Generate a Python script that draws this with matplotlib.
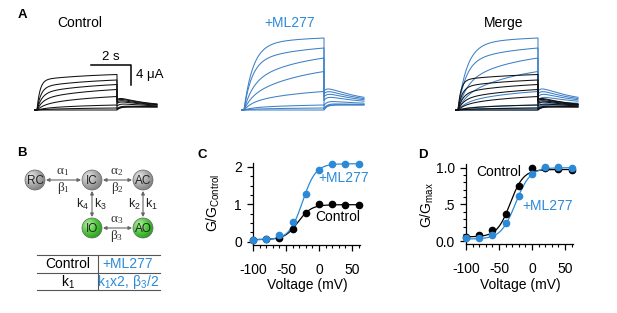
import numpy as np
import matplotlib.pyplot as plt
from matplotlib.patches import Circle
from matplotlib.colors import LinearSegmentedColormap
from matplotlib.ticker import MultipleLocator

plt.rcParams['font.family'] = ['Liberation Sans', 'DejaVu Sans']
plt.rcParams['mathtext.default'] = 'regular'

W, H = 617, 313
BLUE = '#2b8ad8'
TRACE_BLUE = '#3d80c6'

# ---- panel A: current traces (uA), one entry per voltage step ----
ctrl_fast = [6.0, 4.6, 3.4, 2.2, 1.0, 0.3, 0.1, 0.0]
ctrl_tau = [0.15, 0.2, 0.25, 0.3, 0.35, 0.4, 0.4, 0.4]
ctrl_slow = [1.1, 1.4, 1.7, 1.9, 1.7, 0.7, 0.3, 0.0]
ctrl_tail = [2.1, 1.9, 1.6, 1.3, 0.8, 0.25, 0.08, 0.0]
ctrl_tail_ss = 0.6
ctrl_tail_tau = 1.6

ml_fast = [13.0, 9.6, 5.5, 2.5, 1.4, 0.4, 0.15, 0.0]
ml_tau = [0.45, 0.4, 0.45, 0.4, 0.4, 0.4, 0.4, 0.4]
ml_slow = [1.4, 2.8, 4.9, 5.2, 2.3, 0.6, 0.25, 0.0]
ml_tail = [3.8, 3.2, 2.6, 1.9, 0.9, 0.3, 0.1, 0.0]
ml_tail_ss = 1.0
ml_tail_tau = 2.2

STEP_DUR = 4.0
TAIL_DUR = 2.0
SLOW_TAU = 3.0

# ---- panels C / D ----
voltage = [-100, -80, -60, -40, -20, 0, 20, 40, 60]
g_rel_ctrl = [0.06, 0.07, 0.115, 0.35, 0.77, 1.0, 1.0, 0.99, 0.97]
g_rel_ml = [0.06, 0.08, 0.18, 0.53, 1.28, 1.92, 2.08, 2.08, 2.08]
g_norm_ctrl = [0.065, 0.08, 0.15, 0.365, 0.755, 1.0, 1.0, 0.98, 0.965]
g_norm_ml = [0.04, 0.05, 0.09, 0.25, 0.61, 0.91, 1.01, 1.01, 1.0]

# Boltzmann fits: bottom, top, V1/2, slope
fit_rel_ctrl = (0.06, 0.99, -32, 10)
fit_rel_ml = (0.06, 2.08, -25, 10)
fit_norm_ctrl = (0.06, 0.975, -33, 10)
fit_norm_ml = (0.03, 1.0, -25, 11)

# ---- panel B table ----
table_rows = [['Control', '+ML277'], ['k$_1$', 'k$_1$x2, β$_3$/2']]


def trace(a_fast, tau, a_slow, tail_amp, tail_ss, tail_tau):
    t0 = np.array([-0.15, 0.0])
    i0 = np.zeros(2)
    t1 = np.linspace(0, STEP_DUR, 300)
    i1 = a_fast * (1 - np.exp(-t1 / tau)) + \
        a_slow * (1 - np.exp(-t1 / SLOW_TAU)) / (1 - np.exp(-STEP_DUR / SLOW_TAU))
    t2 = np.linspace(0, TAIL_DUR, 150)
    i2 = tail_ss * (1 - np.exp(-t2 / 0.15)) + tail_amp * np.exp(-t2 / tail_tau)
    return np.concatenate([t0, t1, t2 + STEP_DUR]), np.concatenate([i0, i1, i2])


def boltz(v, p):
    bot, top, vh, k = p
    return bot + (top - bot) / (1 + np.exp((vh - v) / k))


fig = plt.figure(figsize=(W / 100, H / 100), dpi=100)


def px_axes(l, t, r, b):
    return fig.add_axes([l / W, 1 - b / H, (r - l) / W, (b - t) / H])


def trace_axes(left):
    ax = px_axes(left, 30, left + 128, 115)
    ax.set_xlim(-0.15, 6.25)
    ax.set_ylim(-1, 16)
    ax.axis('off')
    return ax


ax_ctrl = trace_axes(34)
ax_ml = trace_axes(241)
ax_merge = trace_axes(455)

for i in range(len(ml_fast)):
    t, cur = trace(ml_fast[i], ml_tau[i], ml_slow[i], ml_tail[i], ml_tail_ss, ml_tail_tau)
    ax_ml.plot(t, cur, color=TRACE_BLUE, lw=0.75)
    ax_merge.plot(t, cur, color=TRACE_BLUE, lw=0.75)
for i in range(len(ctrl_fast)):
    t, cur = trace(ctrl_fast[i], ctrl_tau[i], ctrl_slow[i], ctrl_tail[i], ctrl_tail_ss, ctrl_tail_tau)
    ax_ctrl.plot(t, cur, color='#111111', lw=0.75)
    ax_merge.plot(t, cur, color='#111111', lw=0.75)

# scale bar
ax_ctrl.plot([2.7, 4.7, 4.7], [9.0, 9.0, 5.0], color='black', lw=1.1)
ax_ctrl.text(3.7, 9.5, '2 s', ha='center', va='bottom', fontsize=9.5)
ax_ctrl.text(4.95, 7.0, '4 μA', ha='left', va='center', fontsize=9.5)


def setup_iv(ax, ylim, yticks, ylabels, yminor):
    ax.set_xlim(-100, 62)
    ax.set_ylim(*ylim)
    for s in ['top', 'right']:
        ax.spines[s].set_visible(False)
    for s in ['left', 'bottom']:
        ax.spines[s].set_linewidth(0.9)
    ax.set_xticks([-100, -50, 0, 50])
    ax.set_xticklabels(['-100', '-50', '0', '50'])
    ax.xaxis.set_minor_locator(MultipleLocator(10))
    ax.set_yticks(yticks)
    ax.set_yticklabels(ylabels)
    ax.yaxis.set_minor_locator(MultipleLocator(yminor))
    ax.tick_params(which='major', direction='out', length=4, width=0.9, labelsize=10)
    ax.tick_params(axis='x', which='major', pad=9)
    ax.tick_params(axis='y', which='major', pad=4)
    ax.tick_params(which='minor', direction='out', length=2.5, width=0.8)


vfit = np.linspace(-100, 60, 200)

ax_c = px_axes(253, 163, 360, 244.5)
setup_iv(ax_c, (-0.07, 2.1), [0, 1, 2], ['0', '1', '2'], 0.25)
ax_c.plot(vfit, boltz(vfit, fit_rel_ctrl), color='black', lw=0.9)
ax_c.plot(vfit, boltz(vfit, fit_rel_ml), color=BLUE, lw=0.9)
ax_c.plot(voltage, g_rel_ctrl, 'o', color='black', ms=4.5, clip_on=False, zorder=4)
ax_c.plot(voltage, g_rel_ml, 'o', color=BLUE, ms=4.5, clip_on=False, zorder=4)

ax_d = px_axes(466, 164, 573, 243.5)
setup_iv(ax_d, (-0.03, 1.05), [0, 0.5, 1.0], ['0.0', '.5', '1.0'], 0.1)
ax_d.plot(vfit, boltz(vfit, fit_norm_ctrl), color='black', lw=0.9)
ax_d.plot(vfit, boltz(vfit, fit_norm_ml), color=BLUE, lw=0.9)
ax_d.plot(voltage, g_norm_ctrl, 'o', color='black', ms=4.5, clip_on=False, zorder=4)
ax_d.plot(voltage, g_norm_ml, 'o', color=BLUE, ms=4.5, clip_on=False, zorder=5)

# ---- overlay in pixel coordinates: labels, scheme, table ----
ov = fig.add_axes([0, 0, 1, 1])
ov.set_xlim(0, W)
ov.set_ylim(H, 0)
ov.axis('off')
ov.patch.set_visible(False)

for lab, x, y in [('A', 22, 15), ('B', 22, 153), ('C', 202, 155), ('D', 423, 155)]:
    ov.text(x, y, lab, fontsize=9.5, fontweight='bold', ha='center', va='center')

ov.text(80, 23, 'Control', fontsize=10, ha='center', va='center')
ov.text(290, 23, '+ML277', fontsize=10, ha='center', va='center', color=BLUE)
ov.text(504, 23, 'Merge', fontsize=10, ha='center', va='center')

ov.text(213, 203, 'G/G$_{Control}$', fontsize=10, rotation=90, ha='center', va='center')
ov.text(307, 285, 'Voltage (mV)', fontsize=10, ha='center', va='center')
ov.text(344, 178, '+ML277', fontsize=10, ha='center', va='center', color=BLUE)
ov.text(338, 217, 'Control', fontsize=10, ha='center', va='center')

ov.text(427, 205, 'G/G$_{max}$', fontsize=10, rotation=90, ha='center', va='center')
ov.text(520, 285, 'Voltage (mV)', fontsize=10, ha='center', va='center')
ov.text(499, 172, 'Control', fontsize=10, ha='center', va='center')
ov.text(548, 206, '+ML277', fontsize=10, ha='center', va='center', color=BLUE)

# kinetic scheme
grey_cmap = LinearSegmentedColormap.from_list('g', ['#e8e8e8', '#a8a8a8', '#727272'])
green_cmap = LinearSegmentedColormap.from_list('gr', ['#b6f0a4', '#4cc63a', '#1f8f16'])
states = {'RC': (35, 180, grey_cmap), 'IC': (92, 180, grey_cmap), 'AC': (143, 180, grey_cmap),
          'IO': (92, 228, green_cmap), 'AO': (143, 228, green_cmap)}
r = 10
yy, xx = np.mgrid[-1:1:60j, -1:1:60j]
grad = np.sqrt((xx + 0.35) ** 2 + (yy + 0.35) ** 2) / 1.7
for name, (cx, cy, cm) in states.items():
    circ = Circle((cx, cy), r, transform=ov.transData, facecolor='none',
                  edgecolor='#666666', lw=0.5, zorder=3)
    ov.add_patch(circ)
    im = ov.imshow(grad, extent=(cx - r, cx + r, cy + r, cy - r), cmap=cm, vmin=0, vmax=1,
                   origin='upper', aspect='auto', zorder=2, interpolation='bilinear')
    im.set_clip_path(circ)
    ov.text(cx, cy + 0.5, name, fontsize=8.5, ha='center', va='center', color='#222222', zorder=4)
ov.set_xlim(0, W)
ov.set_ylim(H, 0)

arrow_kw = dict(arrowstyle='<|-|>', color='#666666', lw=0.8, mutation_scale=5,
                shrinkA=0, shrinkB=0)
for (x1, y1), (x2, y2) in [((46, 180), (81, 180)), ((103, 180), (132, 180)),
                           ((92, 191), (92, 217)), ((143, 191), (143, 217)),
                           ((103, 228), (132, 228))]:
    ov.annotate('', xy=(x2, y2), xytext=(x1, y1), arrowprops=arrow_kw)

serif = ['Liberation Serif', 'DejaVu Serif']
for txt, x, y in [('α$_1$', 63, 172.5), ('β$_1$', 63, 187.5), ('α$_2$', 117, 172.5),
                  ('β$_2$', 117, 187.5), ('α$_3$', 117, 220.5), ('β$_3$', 117, 235.5)]:
    ov.text(x, y, txt, fontsize=9.5, family=serif, ha='center', va='center', color='#333333')
for txt, x, y in [('k$_4$', 82, 204), ('k$_3$', 100, 204), ('k$_2$', 134, 204), ('k$_1$', 151, 204)]:
    ov.text(x, y, txt, fontsize=9, ha='center', va='center', color='#222222')

# table
for y in [255, 273, 290]:
    ov.plot([37, 160], [y, y], color='#555555', lw=0.8)
ov.plot([98, 98], [255, 290], color='#555555', lw=0.8)
for row, y in zip(table_rows, [264, 282]):
    ov.text(68, y, row[0], fontsize=10, ha='center', va='center')
    ov.text(128, y, row[1], fontsize=10, ha='center', va='center', color=BLUE)

fig.savefig('out.png', dpi=100)
